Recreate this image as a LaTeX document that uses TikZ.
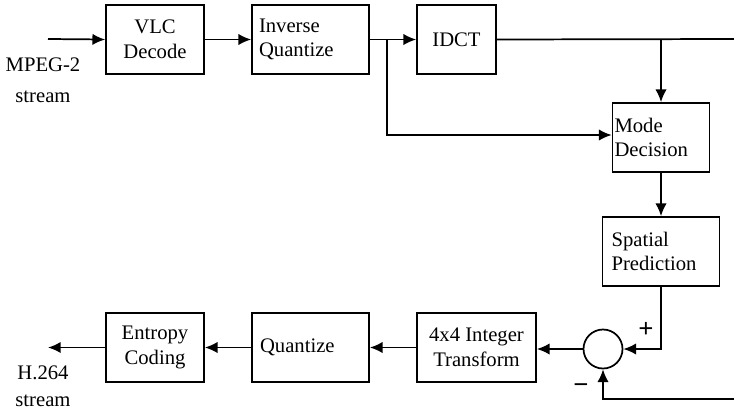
\documentclass[tikz,border=0pt]{standalone}
\usepackage{fontspec}
\setmainfont{Liberation Serif}
\usetikzlibrary{arrows.meta}
\newlength\pxu
\setlength\pxu{0.75pt}
\begin{document}
\begin{tikzpicture}[x=0.75pt,y=-0.75pt,
  every node/.style={font=\fontsize{15.5pt}{18.5pt}\selectfont},
  blk/.style={draw,line width=1.3pt,minimum height=69\pxu,inner sep=0pt,align=center},
  lblk/.style={blk,align=left},
  wire/.style={line width=1.3pt},
  arr/.style={wire,-{Latex[length=9.5pt,width=8.5pt]}},
  sumnode/.style={draw,circle,line width=1.3pt,minimum size=39\pxu,inner sep=0pt},
  signlbl/.style={font=\bfseries\fontsize{20pt}{20pt}\selectfont,inner sep=0pt}
]
\useasboundingbox (0,0) rectangle (734,411);

% decoder chain
\node[blk,minimum width=98\pxu] (vlc) at (155,39.5) {VLC\\Decode};
\node[lblk,minimum width=117\pxu,text width=103\pxu] (iq) at (310.5,39.5) {Inverse\\Quantize};
\node[blk,minimum width=79\pxu] (idct) at (456.5,39.5) {IDCT};
\node[lblk,minimum width=97\pxu,text width=93\pxu] (mode) at (661,137.5) {Mode\\Decision};
\node[lblk,minimum width=117\pxu,text width=99\pxu] (spat) at (661,251.5) {Spatial\\Prediction};

% encoder chain
\node[sumnode] (sum) at (603,349) {};
\node[blk,minimum width=119\pxu] (tr) at (476.5,347.5) {4x4 Integer\\Transform};
\node[lblk,minimum width=117\pxu,text width=101\pxu] (q) at (310.5,347.5) {Quantize};
\node[blk,minimum width=98\pxu] (ent) at (155,347.5) {Entropy\\Coding};

% stream labels
\node[align=center] (inlbl) at (43,80) {MPEG-2\\[4.5pt]stream};
\node[align=center] (outlbl) at (43,386.5) {H.264\\[2pt]stream};

% connection points
\coordinate (in) at (48,39);
\coordinate (out) at (48,347.5);
\coordinate (br1) at (387,39);
\coordinate (br1d) at (387,135);
\coordinate (modein) at (mode.west |- br1d);
\coordinate (br2) at (661,39);
\coordinate (edge1) at (734,39);
\coordinate (edge2) at (734,399);

% top row wiring
\draw[arr] (in) -- (vlc.west);
\draw[arr] (vlc.east) -- (iq.west |- vlc.east);
\draw[arr] (iq.east) -- (idct.west);
\draw[wire] (idct.east) -- (edge1);
\draw[arr] (br1) -- (br1d) -- (modein);
\draw[arr] (br2) -- (mode.north);
\draw[arr] (mode.south) -- (spat.north);

% prediction and residual
\draw[arr] (spat.south) |- (sum.east);
\draw[arr] (edge2) -| (sum.south);
\node[signlbl] (plus) at (646,330) {+};
\node[signlbl] (minus) at (581,389) {−};

% bottom row wiring
\draw[arr] (sum.west) -- (tr.east |- sum.west);
\draw[arr] (tr.west) -- (q.east);
\draw[arr] (q.west) -- (ent.east);
\draw[arr] (ent.west) -- (out);
\end{tikzpicture}
\end{document}
